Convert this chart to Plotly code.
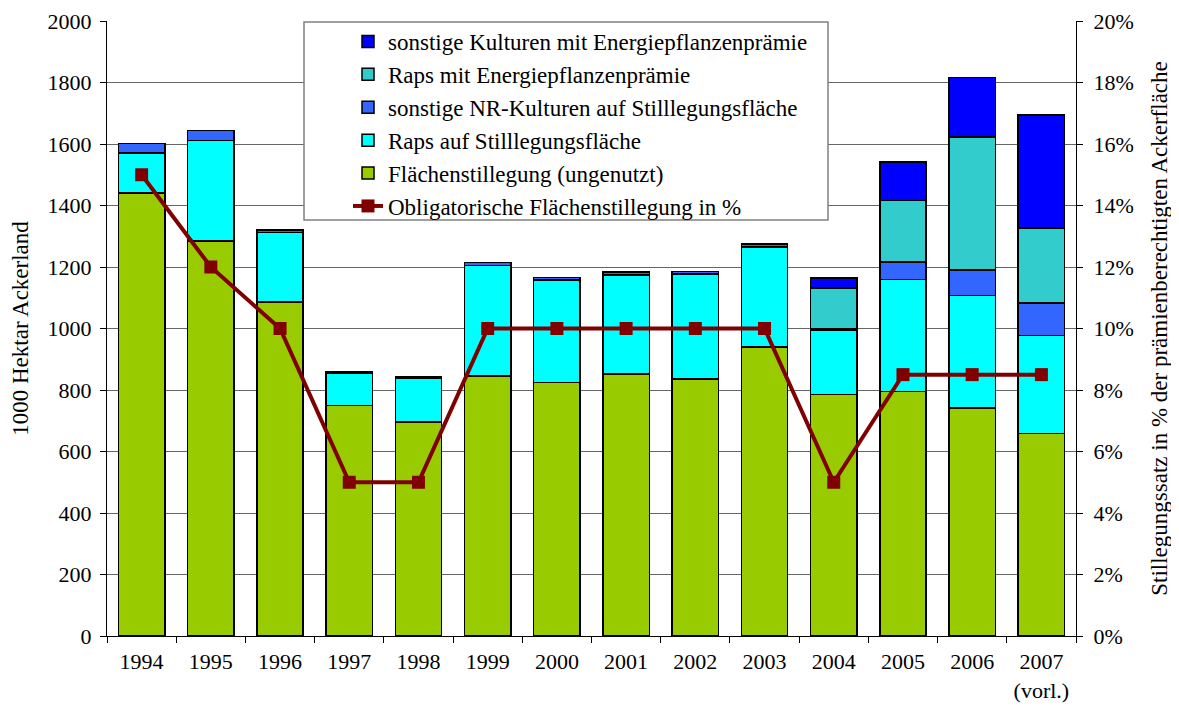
import plotly.graph_objects as go

years = ["1994", "1995", "1996", "1997", "1998", "1999", "2000", "2001", "2002", "2003", "2004", "2005", "2006", "2007"]
year_labels = years[:-1] + ["2007<br>(vorl.)"]

flaechenstillegung = [1440, 1284, 1086, 750, 696, 846, 825, 852, 836, 940, 785, 795, 741, 658]
raps_stilllegung = [131, 328, 227, 105, 142, 359, 332, 322, 341, 325, 208, 364, 367, 319]
sonstige_nr = [30, 32, 8, 5, 5, 10, 9, 10, 9, 10, 5, 57, 83, 106]
raps_energie = [0, 0, 0, 0, 0, 0, 0, 0, 0, 0, 134, 201, 432, 244]
sonstige_energie = [0, 0, 0, 0, 0, 0, 0, 0, 0, 0, 32, 124, 193, 367]
obligatorisch_pct = [15, 12, 10, 5, 5, 10, 10, 10, 10, 10, 5, 8.5, 8.5, 8.5]

series = [
    ("Flächenstillegung (ungenutzt)", flaechenstillegung, "#99CC00", 5),
    ("Raps auf Stilllegungsfläche", raps_stilllegung, "#00FFFF", 4),
    ("sonstige NR-Kulturen auf Stilllegungsfläche", sonstige_nr, "#3366FF", 3),
    ("Raps mit Energiepflanzenprämie", raps_energie, "#33CCCC", 2),
    ("sonstige Kulturen mit Energiepflanzenprämie", sonstige_energie, "#0000FF", 1),
]

fig = go.Figure()
for name, vals, col, rank in series:
    fig.add_trace(go.Bar(
        x=years, y=vals, name=name, marker_color=col,
        marker_line_color="#000000", marker_line_width=1.5,
        legendrank=rank,
    ))

fig.add_trace(go.Scatter(
    x=years, y=obligatorisch_pct, name="Obligatorische Flächenstillegung in %",
    mode="lines+markers", yaxis="y2",
    line=dict(color="#800000", width=4),
    marker=dict(symbol="square", size=13, color="#800000"),
    legendrank=6,
))

font_family = "Liberation Serif"
OFF = 8  # page body offset
L, R, T, B = 107 - OFF, 103 + OFF, 13, 82
W, H = 1179, 710
pw, ph = W - L - R, H - T - B


def px_x(x):
    return (x - OFF - L) / pw


def px_y(y):
    return (H - B - (y - OFF)) / ph


fig.update_layout(
    width=W, height=H,
    margin=dict(l=L, r=R, t=T, b=B, autoexpand=False),
    paper_bgcolor="white", plot_bgcolor="white",
    barmode="stack", bargap=0.33,
    font=dict(family=font_family, size=22, color="#000000"),
    showlegend=True,
    legend=dict(
        x=px_x(348), y=px_y(20), xanchor="left", yanchor="top",
        bgcolor="rgba(0,0,0,0)", borderwidth=0,
        font=dict(family=font_family, size=23, color="#000000"),
        traceorder="normal",
    ),
    shapes=[dict(
        type="rect", xref="paper", yref="paper",
        x0=px_x(304), x1=px_x(828), y0=px_y(220), y1=px_y(22),
        fillcolor="white", line=dict(color="#808080", width=1.5), layer="above",
    )],
    xaxis=dict(
        type="category", tickmode="array", tickvals=years, ticktext=year_labels,
        range=[-0.5, len(years) - 0.5], automargin=False,
        showline=True, linecolor="#000000", linewidth=1,
        ticks="outside", tickson="boundaries", ticklen=6, tickcolor="#000000",
        ticklabelstandoff=6,
        showgrid=False,
        tickfont=dict(family=font_family, size=22),
    ),
    yaxis=dict(
        range=[0, 2000], tickmode="array",
        tickvals=[0, 200, 400, 600, 800, 1000, 1200, 1400, 1600, 1800, 2000],
        automargin=False, ticklabeloverflow="allow",
        showline=True, linecolor="#000000", linewidth=1,
        ticks="outside", ticklen=6, tickcolor="#000000",
        ticklabelstandoff=4,
        showgrid=True, gridcolor="#666666", gridwidth=1,
        zeroline=False,
        title=dict(text="1000 Hektar Ackerland", font=dict(family=font_family, size=23), standoff=16),
        tickfont=dict(family=font_family, size=22),
    ),
    yaxis2=dict(
        range=[0, 20], tickmode="array",
        tickvals=[0, 2, 4, 6, 8, 10, 12, 14, 16, 18, 20],
        ticktext=["0%", "2%", "4%", "6%", "8%", "10%", "12%", "14%", "16%", "18%", "20%"],
        overlaying="y", side="right", automargin=False, ticklabeloverflow="allow",
        showline=True, linecolor="#000000", linewidth=1,
        ticks="outside", ticklen=6, tickcolor="#000000",
        ticklabelstandoff=6,
        showgrid=False, zeroline=False,
        title=dict(text="Stillegungssatz in % der prämienberechtigten Ackerfläche",
                   font=dict(family=font_family, size=23), standoff=18),
        tickfont=dict(family=font_family, size=22),
    ),
)

fig.write_html("out.html")
